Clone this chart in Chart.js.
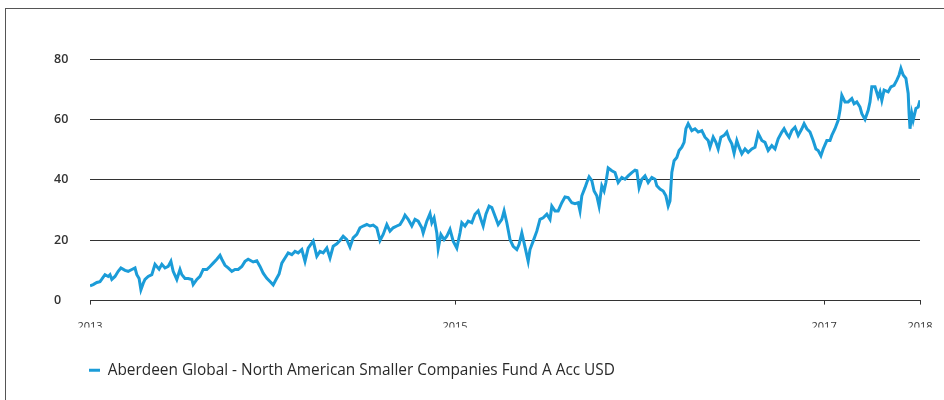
<!DOCTYPE html>
<html>
<head>
<meta charset="utf-8">
<script src="https://cdn.jsdelivr.net/npm/chart.js@4.4.1/dist/chart.umd.min.js"></script>
<style>
  html, body { margin: 0; padding: 0; background: #ffffff; }
  #wrap { position: relative; width: 944px; height: 400px; overflow: hidden; background: #fff; }
  #frame { position: absolute; left: 5px; top: 8px; width: 960px; height: 420px;
           border-top: 1.5px solid #555; border-left: 1.5px solid #555; box-sizing: border-box; }
  #chart { position: absolute; left: 0; top: 0; }
</style>
</head>
<body>
<div id="wrap">
  <div id="frame"></div>
  <canvas id="chart" width="944" height="400"></canvas>
</div>
<script>
// ---- data ----
const seriesName = 'Aberdeen Global - North American Smaller Companies Fund A Acc USD';

// days since start of 2013 (sample positions along the time axis)
const days = [
  0,7,15,22,26,33,40,44,48,55,62,68,77,84,92,99,103,108,112,117,121,128,136,143,147,152,158,165,172,178,
  183,191,198,202,209,216,224,227,235,242,249,257,264,271,279,286,290,297,304,312,319,326,334,341,348,
  359,367,374,381,389,396,403,409,416,422,429,436,444,451,458,466,473,480,491,499,506,513,521,528,535,
  543,550,557,565,572,579,587,594,601,609,616,623,631,638,645,653,660,667,675,682,689,693,700,708,715,
  722,730,733,741,748,752,757,763,766,772,779,785,792,799,807,814,818,825,832,840,847,854,860,865,871,
  878,884,891,898,906,911,917,924,931,939,944,950,955,964,968,975,983,990,997,1005,1012,1016,1023,1030,
  1038,1045,1052,1060,1067,1074,1078,1082,1089,
  1093,1098,1104,1109,1115,1120,1126,1131,1135,1140,1148,1155,1162,1170,1177,1184,1192,1199,1203,1208,
  1214,1221,1228,1236,1243,1247,1254,1261,1267,1272,1276,1280,1285,1291,1296,1302,1307,1311,1316,1324,
  1331,1338,1346,1353,1360,1364,1371,1377,1382,1388,1395,1401,1406,1412,1417,1423,1428,1434,
  1441,1448,1456,1463,1470,1478,1485,1492,1500,1507,1514,1522,1527,1533,1538,1544,1551,1558,1566,1571,
  1577,1584,1591,1597,1602,1608,1613,1621,1628,1632,1639,1646,1650,1654,1661,1668,1676,1681,1687,1694,
  1698,1705,1712,1716,1720,1727,1734,1738,1742,1747,1756,1762,1769,1775,1780,1784,1789,1795,1800,1802,
  1804,1808,1811,1817,1822,1826
];

// fund value (%), one per entry of days
const values = [
  4.9,5.3,6.0,6.3,7.1,8.6,8.0,8.6,7.0,8.0,9.7,10.8,10.0,9.7,10.3,10.8,8.6,7.3,3.6,5.7,
  7.0,8.0,8.6,12.0,11.3,10.4,12.0,10.8,11.3,13.0,9.7,7.0,10.3,8.6,7.3,7.3,7.0,5.3,7.0,8.0,
  10.3,10.3,11.3,12.4,13.7,15.0,13.7,11.7,10.8,9.7,10.3,10.3,11.3,13.0,13.7,
  12.8,13.2,11.3,9.1,7.4,6.3,5.2,6.9,8.8,12.4,14.1,15.8,15.2,16.3,15.8,16.9,13.0,17.4,19.7,14.7,
  16.3,15.8,17.4,14.1,18.0,18.8,19.9,21.3,20.2,17.7,20.8,21.9,24.1,24.7,25.2,24.7,25.0,24.1,19.9,21.9,
  25.2,23.0,24.1,24.7,25.2,26.9,28.3,26.9,24.7,26.9,
  26.3,24.1,22.4,26.3,28.8,25.8,27.4,22.4,17.2,21.9,20.2,21.3,23.6,19.7,17.4,22.4,25.8,24.7,26.3,25.8,
  28.6,29.7,26.9,24.7,28.6,31.3,30.8,28.0,25.2,26.9,29.7,25.8,20.2,18.0,16.9,18.6,22.4,19.1,13.0,16.9,
  19.7,23.0,26.9,27.4,28.6,26.9,31.3,29.7,29.7,32.4,34.3,34.1,32.4,32.1,32.4,29.7,34.7,37.4,
  39.1,41.0,39.7,36.3,34.7,31.3,38.0,36.3,39.1,43.9,43.0,42.4,39.1,40.8,40.2,41.3,42.4,43.2,43.0,37.4,
  40.2,41.3,39.1,40.8,40.2,38.0,36.9,36.3,34.7,31.3,33.0,42.4,46.3,47.4,49.7,50.8,52.4,56.9,58.6,56.3,
  56.9,55.8,56.3,54.1,53.0,50.8,54.1,52.4,50.2,54.1,54.7,55.8,53.6,51.9,48.8,53.0,50.8,48.6,
  50.2,49.1,50.2,50.8,55.4,53.0,52.4,49.7,51.3,50.2,53.6,55.8,56.9,55.2,54.1,56.3,57.4,54.7,56.9,58.6,
  56.9,55.8,53.0,50.2,49.7,48.0,50.2,53.0,53.0,54.7,56.9,59.7,63.0,68.0,65.8,65.8,66.9,65.2,65.8,64.1,
  61.9,60.0,63.0,65.8,70.8,70.8,67.4,69.1,66.3,69.7,69.1,70.8,71.3,73.0,74.7,76.9,74.7,73.6,68.6,61.9,
  56.9,61.9,59.7,63.6,64.1,66.3
];

// x-axis tick labels and the day positions where they sit
const xTickLabels = ['2013', '2015', '2017', '2018'];
const xTickDays   = [0, 803, 1615, 1826];

// y-axis ticks
const yTickValues = [0, 20, 40, 60, 80];

// ---- chart ----
const points = days.map((d, i) => ({ x: d, y: values[i] }));
const FONT = "'Open Sans', 'Noto Sans', 'DejaVu Sans', sans-serif";
const LINE_COLOR = '#1b9cd8';

new Chart(document.getElementById('chart'), {
  type: 'line',
  data: {
    datasets: [{
      label: seriesName,
      data: points,
      borderColor: LINE_COLOR,
      backgroundColor: LINE_COLOR,
      borderWidth: 3,
      borderJoinStyle: 'miter',
      pointRadius: 0,
      tension: 0,
      fill: false
    }]
  },
  options: {
    responsive: false,
    animation: false,
    layout: { padding: { left: 54, right: 24, top: 59, bottom: 12 } },
    plugins: {
      tooltip: { enabled: false },
      legend: {
        position: 'bottom',
        align: 'start',
        labels: {
          boxWidth: 11,
          boxHeight: 3,
          padding: 35,
          color: '#2a2a2a',
          font: { family: FONT, size: 15.4 },
          generateLabels: (chart) =>
            Chart.defaults.plugins.legend.labels.generateLabels(chart).map(l => ({ ...l, lineWidth: 0 }))
        }
      }
    },
    scales: {
      x: {
        type: 'linear',
        min: xTickDays[0],
        max: xTickDays[xTickDays.length - 1],
        afterBuildTicks: (scale) => { scale.ticks = xTickDays.map(v => ({ value: v })); },
        afterFit: (scale) => { scale.height = 27; scale.paddingLeft = 0; scale.paddingRight = 0; },
        grid: { drawOnChartArea: false, drawTicks: true, tickLength: 4, color: '#333', lineWidth: 1 },
        border: { display: true, color: '#333', width: 1 },
        ticks: {
          autoSkip: false,
          maxRotation: 0,
          padding: 16,
          color: '#333',
          font: { family: FONT, size: 11 },
          callback: (v) => { const i = xTickDays.indexOf(v); return i >= 0 ? xTickLabels[i] : ''; }
        }
      },
      y: {
        min: 0,
        max: 80,
        afterBuildTicks: (scale) => { scale.ticks = yTickValues.map(v => ({ value: v })); },
        afterFit: (scale) => { scale.width = 36; },
        grid: { drawTicks: false, color: '#333', lineWidth: 1 },
        border: { display: false },
        ticks: {
          crossAlign: 'far',
          padding: 0,
          color: '#333',
          font: { family: FONT, size: 12.5, weight: '600' }
        }
      }
    }
  }
});
</script>
</body>
</html>
